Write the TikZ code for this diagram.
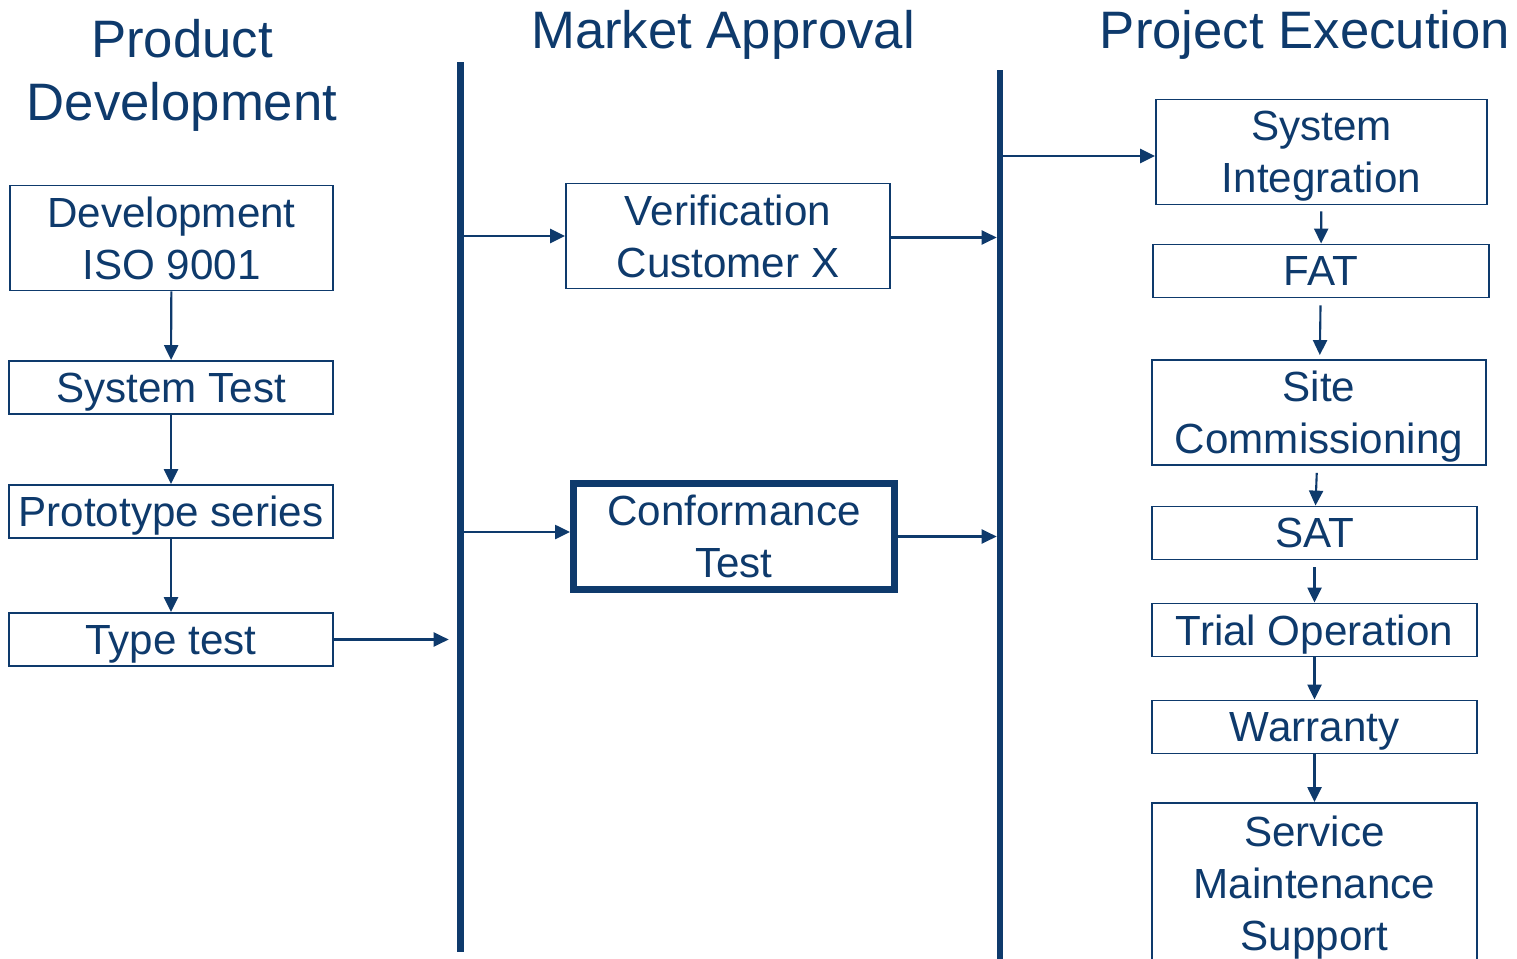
\documentclass[tikz,border=0pt]{standalone}
\usepackage{fontspec}
\setmainfont{Liberation Sans}
\usetikzlibrary{arrows.meta,positioning}
\definecolor{deepblue}{RGB}{14,58,108}

\begin{document}
\begin{tikzpicture}[x=0.02cm, y=-0.02cm,
    every node/.style={text=deepblue, align=center,
      font=\fontsize{24}{29.6}\selectfont},
    box/.style={draw=deepblue, line width=1.1pt, inner sep=0pt,
      text depth=0pt, minimum height=1.06cm},
    bigbox/.style={box, minimum height=2.1cm},
    heading/.style={font=\fontsize{30}{35.7}\selectfont},
    lane/.style={fill=deepblue, inner sep=0pt, minimum height=17.8cm},
    arr/.style={draw=deepblue, line width=1.2pt,
      -{Triangle[length=8.5pt,width=8pt]}}]
  \useasboundingbox (0,0) rectangle (1517,959);

  % headings
  \node [heading] (hprod) at (182,75.5) {Product\\Development};
  \node [heading] (hmarket) at (723,35) {Market Approval};
  \node [heading] (hproj) at (1305,35) {Project Execution};

  % lanes
  \node [lane, minimum width=0.14cm] (lane1) at (460,507) {};
  \node [lane, minimum width=0.12cm] (lane2) at (1000,515) {};

  % product development
  \node [bigbox, minimum width=6.46cm] (dev) at (171.5,238) {Development\\ISO 9001};
  \node [box, minimum width=6.48cm] (systest) at (171,387.5) {System Test};
  \node [box, minimum width=6.48cm] (proto) at (171,511.5) {Prototype series};
  \node [box, minimum width=6.48cm] (type) at (171,639.5) {Type test};
  \draw [arr] (dev) -- (systest);
  \draw [arr] (systest) -- (proto);
  \draw [arr] (proto) -- (type);
  \draw [arr, shorten >=0.15cm] (type.east) -- (type.east -| lane1.west);

  % market approval
  \node [bigbox, minimum width=6.48cm] (verif) at (728,236) {Verification\\Customer X};
  \node [box, line width=4pt, minimum width=6.42cm, minimum height=2.12cm]
    (conf) at (734,536.5) {Conformance\\Test};
  \draw [arr] (lane1.east |- verif.west) -- (verif.west);
  \draw [arr] ([yshift=-0.03cm]verif.east) -- ([yshift=-0.03cm]verif.east -| lane2.west);
  \draw [arr] ([yshift=0.09cm]lane1.east |- conf.west) -- ([yshift=0.09cm]conf.west);
  \draw [arr] (conf.east) -- (conf.east -| lane2.west);

  % project execution
  \node [bigbox, minimum width=6.62cm] (integ) at (1321.5,152) {System\\Integration};
  \node [box, minimum width=6.72cm] (fat) at (1321,271) {FAT};
  \node [bigbox, minimum width=6.68cm] (site) at (1319,412.5) {Site\\Commissioning};
  \node [box, minimum width=6.5cm] (sat) at (1314.5,533) {SAT};
  \node [box, minimum width=6.5cm] (trial) at (1314.5,630) {Trial Operation};
  \node [box, minimum width=6.5cm] (warr) at (1314.5,727) {Warranty};
  \node [box, minimum width=6.5cm, minimum height=3.22cm] (serv) at (1314.5,883.5)
    {Service\\Maintenance\\Support};
  \draw [arr] ([yshift=-0.08cm]lane2.east |- integ.west) -- ([yshift=-0.08cm]integ.west);
  \draw [arr, shorten <=0.12cm] (integ) -- (fat);
  \draw [arr, shorten <=0.14cm, shorten >=0.08cm] (fat) -- (site);
  \draw [arr, shorten <=0.14cm] (site) -- (sat);
  \draw [arr, shorten <=0.14cm] (sat) -- (trial);
  \draw [arr] (trial) -- (warr);
  \draw [arr] (warr) -- (serv);
\end{tikzpicture}
\end{document}
